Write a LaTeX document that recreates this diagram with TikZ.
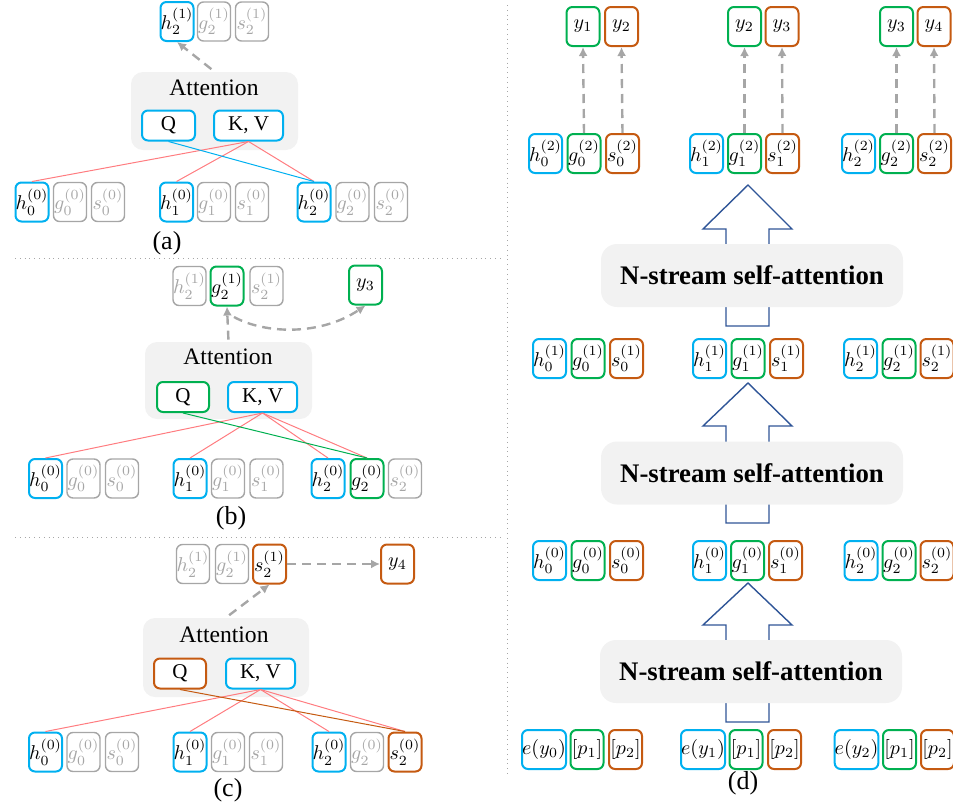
\documentclass[tikz,border=0pt]{standalone}
\usepackage{fontspec}
\setmainfont{Liberation Serif}
\usepackage{amsmath}
\usepackage{tikz}
\usetikzlibrary{arrows.meta}

\definecolor{hblue}{HTML}{00B0F0}
\definecolor{ggreen}{HTML}{00B050}
\definecolor{sorange}{HTML}{C55A11}
\definecolor{offgray}{HTML}{A6A6A6}
\definecolor{boxgray}{HTML}{F2F2F2}
\definecolor{kvred}{HTML}{FF7C80}
\definecolor{arrblue}{HTML}{2F5597}

\tikzset{
	tok/.style={draw, rounded corners=3pt, line width=1pt, fill=white, minimum width=16.5pt, minimum height=19.5pt, inner sep=0pt, font=\fontsize{10}{11}\selectfont},
	hbox/.style={tok, draw=hblue},
	gbox/.style={tok, draw=ggreen},
	sbox/.style={tok, draw=sorange},
	offbox/.style={tok, draw=offgray, line width=0.7pt, text=offgray},
	qkv/.style={draw, rounded corners=3pt, line width=1pt, fill=white, minimum height=15pt, inner sep=0pt, font=\fontsize{10.5}{11}\selectfont},
	attbox/.style={fill=boxgray, rounded corners=6pt, inner sep=0pt},
	atttext/.style={font=\fontsize{11.8}{12}\selectfont, inner sep=0pt},
	nstream/.style={fill=boxgray, rounded corners=8pt, inner sep=0pt, minimum width=151pt, minimum height=31.5pt, font=\fontsize{13.4}{14}\selectfont\bfseries},
	dasharr/.style={-{Latex[length=4.5pt,width=4.5pt]}, draw=offgray, line width=1.2pt, dash pattern=on 4.5pt off 3pt},
	sepline/.style={dotted, draw=gray!70, line width=0.4pt},
	bigarr/.style={draw=arrblue, line width=0.7pt, line join=miter},
	caption/.style={font=\fontsize{13}{13}\selectfont, inner sep=0pt},
}

\begin{document}
\begin{tikzpicture}[x=0.5pt, y=-0.5pt]
	\useasboundingbox (0,0) rectangle (953,803);

	% separators
	\draw[sepline] (15,258) -- (503,258);
	\draw[sepline] (15,537) -- (503,537);
	\draw[sepline] (507,5) -- (507,775);

	%%%%% (a)
	\node[hbox] (hAt) at (177,21.5) {$h_2^{(1)}$};
	\node[offbox] (gAt) at (214,21.5) {$g_2^{(1)}$};
	\node[offbox] (sAt) at (252,21.5) {$s_2^{(1)}$};

	\node[attbox, minimum width=83.5pt, minimum height=39pt] (attA) at (214.5,111) {};
	\node[atttext] (attAt) at (214,88) {Attention};
	\node[qkv, draw=hblue, minimum width=26.5pt] (qA) at (168.5,125.5) {Q};
	\node[qkv, draw=hblue, minimum width=34.5pt] (kvA) at (248.5,125.5) {K, V};

	\node[hbox] (hA0) at (32,202) {$h_0^{(0)}$};
	\node[offbox] (gA0) at (70,202) {$g_0^{(0)}$};
	\node[offbox] (sA0) at (108,202) {$s_0^{(0)}$};
	\node[hbox] (hA1) at (176.5,202) {$h_1^{(0)}$};
	\node[offbox] (gA1) at (214,202) {$g_1^{(0)}$};
	\node[offbox] (sA1) at (252,202) {$s_1^{(0)}$};
	\node[hbox] (hA2) at (314,202) {$h_2^{(0)}$};
	\node[offbox] (gA2) at (352.5,202) {$g_2^{(0)}$};
	\node[offbox] (sA2) at (391,202) {$s_2^{(0)}$};

	\draw[kvred, line width=0.5pt] (kvA.south) -- (hA0.north);
	\draw[kvred, line width=0.5pt] (kvA.south) -- (hA1.north);
	\draw[kvred, line width=0.5pt] (kvA.south) -- (hA2.north);
	\draw[hblue, line width=0.5pt] (qA.south) -- (hA2.north);
	\draw[dasharr, shorten <=2pt] (attA.north) -- (hAt.south);

	\node[caption] (capA) at (167,243) {(a)};

	%%%%% (b)
	\node[offbox] (hBt) at (189.5,286) {$h_2^{(1)}$};
	\node[gbox] (gBt) at (227,286) {$g_2^{(1)}$};
	\node[offbox] (sBt) at (266.5,286) {$s_2^{(1)}$};
	\node[gbox] (yB) at (365.5,285) {$y_3$};

	\node[attbox, minimum width=83.5pt, minimum height=38.5pt] (attB) at (228.5,380.5) {};
	\node[atttext] (attBt) at (228,357) {Attention};
	\node[qkv, draw=ggreen, minimum width=26pt] (qB) at (183,397) {Q};
	\node[qkv, draw=hblue, minimum width=34.5pt] (kvB) at (262.5,397) {K, V};

	\node[hbox] (hB0) at (45.5,478.5) {$h_0^{(0)}$};
	\node[offbox] (gB0) at (83.5,478.5) {$g_0^{(0)}$};
	\node[offbox] (sB0) at (122,478.5) {$s_0^{(0)}$};
	\node[hbox] (hB1) at (190,478.5) {$h_1^{(0)}$};
	\node[offbox] (gB1) at (228,478.5) {$g_1^{(0)}$};
	\node[offbox] (sB1) at (266.5,478.5) {$s_1^{(0)}$};
	\node[hbox] (hB2) at (328,478.5) {$h_2^{(0)}$};
	\node[gbox] (gB2) at (367,478.5) {$g_2^{(0)}$};
	\node[offbox] (sB2) at (405,478.5) {$s_2^{(0)}$};

	\draw[kvred, line width=0.5pt] (kvB.south) -- (hB0.north);
	\draw[kvred, line width=0.5pt] (kvB.south) -- (hB1.north);
	\draw[kvred, line width=0.5pt] (kvB.south) -- (hB2.north);
	\draw[kvred, line width=0.5pt] (kvB.south) -- (gB2.north);
	\draw[ggreen, line width=0.5pt] (qB.south) -- (gB2.north);
	\draw[dasharr, shorten <=1pt] (attB.north) -- (gBt.south);
	\coordinate (bfork) at (234,317);
	\draw[dasharr] (bfork) .. controls (265,334) and (320,336) .. (yB.south);

	\node[caption] (capB) at (231,518) {(b)};

	%%%%% (c)
	\node[offbox] (hCt) at (193,564) {$h_2^{(1)}$};
	\node[offbox] (gCt) at (232,564) {$g_2^{(1)}$};
	\node[sbox] (sCt) at (269.5,564) {$s_2^{(1)}$};
	\node[sbox] (yC) at (397.5,564) {$y_4$};

	\node[attbox, minimum width=83pt, minimum height=39.5pt] (attC) at (226,657.5) {};
	\node[atttext] (attCt) at (224,635) {Attention};
	\node[qkv, draw=sorange, minimum width=26pt] (qC) at (180,673.5) {Q};
	\node[qkv, draw=hblue, minimum width=34.5pt] (kvC) at (260.5,673.5) {K, V};

	\node[hbox] (hC0) at (45.5,752) {$h_0^{(0)}$};
	\node[offbox] (gC0) at (83.5,752) {$g_0^{(0)}$};
	\node[offbox] (sC0) at (122,752) {$s_0^{(0)}$};
	\node[hbox] (hC1) at (190,752) {$h_1^{(0)}$};
	\node[offbox] (gC1) at (228,752) {$g_1^{(0)}$};
	\node[offbox] (sC1) at (266,752) {$s_1^{(0)}$};
	\node[hbox] (hC2) at (329,752) {$h_2^{(0)}$};
	\node[offbox] (gC2) at (367,752) {$g_2^{(0)}$};
	\node[sbox] (sC2) at (405,752) {$s_2^{(0)}$};

	\draw[kvred, line width=0.5pt] (kvC.south) -- (hC0.north);
	\draw[kvred, line width=0.5pt] (kvC.south) -- (hC1.north);
	\draw[kvred, line width=0.5pt] (kvC.south) -- (hC2.north);
	\draw[kvred, line width=0.5pt] (kvC.south) -- (sC2.north);
	\draw[sorange, line width=0.5pt] (qC.south) -- (sC2.north);
	\draw[dasharr, shorten <=2pt] (attC.north) -- (sCt.south);
	\draw[dasharr] (sCt.east) -- (yC.west);

	\node[caption] (capC) at (228,790) {(c)};

	%%%%% (d)
	% big arrows, behind the blocks
	\draw[bigarr] (748,185) -- (792,229) -- (769,229) -- (769,326) -- (726,326) -- (726,229) -- (703,229) -- cycle;
	\draw[bigarr] (748,383) -- (792,426) -- (769,426) -- (769,523) -- (726,523) -- (726,426) -- (703,426) -- cycle;
	\draw[bigarr] (748,583) -- (792,625) -- (769,625) -- (769,722) -- (726,722) -- (726,625) -- (703,625) -- cycle;

	\node[nstream] (ns2) at (752,275.5) {N-stream self-attention};
	\node[nstream] (ns1) at (752,473) {N-stream self-attention};
	\node[nstream] (ns0) at (751,671.5) {N-stream self-attention};

	% outputs
	\node[gbox] (yD1) at (583,26.5) {$y_1$};
	\node[sbox] (yD2) at (621.5,26.5) {$y_2$};
	\node[gbox] (yD3) at (744.5,26.5) {$y_2$};
	\node[sbox] (yD4) at (782,26.5) {$y_3$};
	\node[gbox] (yD5) at (896.5,26.5) {$y_3$};
	\node[sbox] (yD6) at (934,26.5) {$y_4$};

	% layer 2
	\node[hbox] (hD20) at (545.5,153.5) {$h_0^{(2)}$};
	\node[gbox] (gD20) at (584,153.5) {$g_0^{(2)}$};
	\node[sbox] (sD20) at (622.5,153.5) {$s_0^{(2)}$};
	\node[hbox] (hD21) at (706.5,153.5) {$h_1^{(2)}$};
	\node[gbox] (gD21) at (744.5,153.5) {$g_1^{(2)}$};
	\node[sbox] (sD21) at (782.5,153.5) {$s_1^{(2)}$};
	\node[hbox] (hD22) at (858.5,153.5) {$h_2^{(2)}$};
	\node[gbox] (gD22) at (896.5,153.5) {$g_2^{(2)}$};
	\node[sbox] (sD22) at (934.5,153.5) {$s_2^{(2)}$};

	\draw[dasharr] (gD20.north) -- (yD1.south);
	\draw[dasharr] (sD20.north) -- (yD2.south);
	\draw[dasharr] (gD21.north) -- (yD3.south);
	\draw[dasharr] (sD21.north) -- (yD4.south);
	\draw[dasharr] (gD22.north) -- (yD5.south);
	\draw[dasharr] (sD22.north) -- (yD6.south);

	% layer 1
	\node[hbox] (hD10) at (549.5,358.5) {$h_0^{(1)}$};
	\node[gbox] (gD10) at (588,358.5) {$g_0^{(1)}$};
	\node[sbox] (sD10) at (626.5,358.5) {$s_0^{(1)}$};
	\node[hbox] (hD11) at (709.5,358.5) {$h_1^{(1)}$};
	\node[gbox] (gD11) at (748,358.5) {$g_1^{(1)}$};
	\node[sbox] (sD11) at (786.5,358.5) {$s_1^{(1)}$};
	\node[hbox] (hD12) at (860.5,358.5) {$h_2^{(1)}$};
	\node[gbox] (gD12) at (899,358.5) {$g_2^{(1)}$};
	\node[sbox] (sD12) at (937,358.5) {$s_2^{(1)}$};

	% layer 0
	\node[hbox] (hD00) at (549.5,560.5) {$h_0^{(0)}$};
	\node[gbox] (gD00) at (588,560.5) {$g_0^{(0)}$};
	\node[sbox] (sD00) at (626.5,560.5) {$s_0^{(0)}$};
	\node[hbox] (hD01) at (709.5,560.5) {$h_1^{(0)}$};
	\node[gbox] (gD01) at (747.5,560.5) {$g_1^{(0)}$};
	\node[sbox] (sD01) at (785.5,560.5) {$s_1^{(0)}$};
	\node[hbox] (hD02) at (861,560.5) {$h_2^{(0)}$};
	\node[gbox] (gD02) at (899,560.5) {$g_2^{(0)}$};
	\node[sbox] (sD02) at (937,560.5) {$s_2^{(0)}$};

	% inputs
	\node[hbox, minimum width=22pt] (eD0) at (544,749.5) {$e(y_0)$};
	\node[gbox] (pD01) at (587,749.5) {$[p_1]$};
	\node[sbox] (pD02) at (625.5,749.5) {$[p_2]$};
	\node[hbox, minimum width=22pt] (eD1) at (703,749.5) {$e(y_1)$};
	\node[gbox] (pD11) at (746,749.5) {$[p_1]$};
	\node[sbox] (pD12) at (784.5,749.5) {$[p_2]$};
	\node[hbox, minimum width=21.5pt] (eD2) at (856.5,749.5) {$e(y_2)$};
	\node[gbox] (pD21) at (899.5,749.5) {$[p_1]$};
	\node[sbox] (pD22) at (937.5,749.5) {$[p_2]$};

	\node[caption] (capD) at (743,783) {(d)};
\end{tikzpicture}
\end{document}
